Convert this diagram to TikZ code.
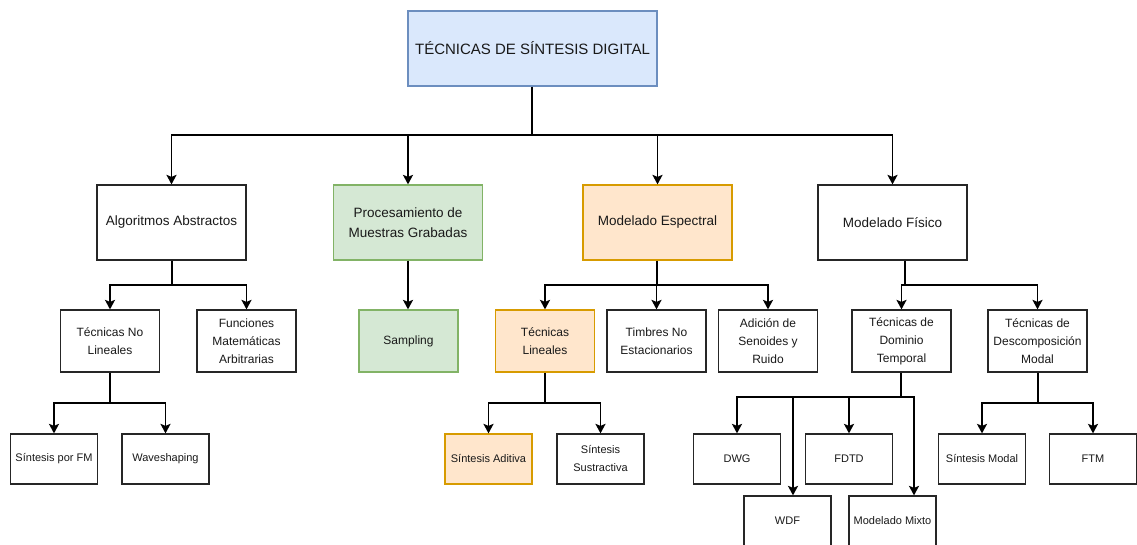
\documentclass[tikz,border=0pt]{standalone}
\usepackage{fontspec}
\setmainfont{Liberation Sans}
\usepackage{tikz}
\usetikzlibrary{calc}
\usetikzlibrary{arrows.meta}
\usetikzlibrary{positioning}
\definecolor{azulfill}{HTML}{DAE8FC}
\definecolor{azuldraw}{HTML}{6C8EBF}
\definecolor{verdefill}{HTML}{D5E8D4}
\definecolor{verdedraw}{HTML}{82B366}
\definecolor{naranjafill}{HTML}{FFE6CC}
\definecolor{naranjadraw}{HTML}{D79B00}
\tikzset{caja/.style={rectangle,draw=black!85,line width=1.2pt,inner sep=0pt,align=center,text=black!90}}
\tikzset{nivelA/.style={caja,minimum width=149pt,minimum height=75pt,font=\fontsize{13.5}{19.5}\selectfont}}
\tikzset{nivelB/.style={caja,minimum width=99pt,minimum height=62pt,font=\fontsize{12}{18}\selectfont}}
\tikzset{nivelC/.style={caja,minimum width=87pt,minimum height=50pt,font=\fontsize{11}{18}\selectfont}}
\tikzset{azul/.style={fill=azulfill,draw=azuldraw}}
\tikzset{verde/.style={fill=verdefill,draw=verdedraw}}
\tikzset{naranja/.style={fill=naranjafill,draw=naranjadraw}}

\begin{document}
\begin{tikzpicture}[x=1pt,y=-1pt]
\tikzstyle{flecha} = [line width=1.8pt,-{Stealth[length=9.5pt,width=10pt,inset=2pt]}]
\tikzstyle{tronco} = [line width=1.8pt]
\clip (0,0) rectangle (1137,545);
\fill[white] (0,0) rectangle (1137,545);

\node[caja,azul,minimum width=249pt,minimum height=75pt,font=\fontsize{15}{18}\selectfont](titulo) at (532.5, 48.5){TÉCNICAS DE SÍNTESIS DIGITAL};

\node[nivelA](algo) at (171.5, 222.5){Algoritmos Abstractos};
\node[nivelA,verde](proc) at (408, 222.5){Procesamiento de\\Muestras Grabadas};
\node[nivelA,naranja](espec) at (657.5, 222.5){Modelado Espectral};
\node[nivelA](fisico) at (892.5, 222.5){Modelado Físico};

\node[nivelB](nolin) at (110, 341){Técnicas No\\Lineales};
\node[nivelB](funcmat) at (246.5, 341){Funciones\\Matemáticas\\Arbitrarias};
\node[nivelB,verde](sampling) at (408.5, 341){Sampling};
\node[nivelB,naranja](lineales) at (545, 341){Técnicas\\Lineales};
\node[nivelB](timbres) at (656.5, 341){Timbres No\\Estacionarios};
\node[nivelB](adicion) at (768, 341){Adición de\\Senoides y\\Ruido};
\node[nivelB](dominio) at (901.5, 341){Técnicas de\\Dominio\\Temporal};
\node[nivelB](descomp) at (1037.5, 341){Técnicas de\\Descomposición\\Modal};

\node[nivelC](fm) at (54, 459){Síntesis por FM};
\node[nivelC](waveshaping) at (165.5, 459){Waveshaping};
\node[nivelC,naranja](aditiva) at (488.5, 459){Síntesis Aditiva};
\node[nivelC](sustractiva) at (600.5, 459){Síntesis\\Sustractiva};
\node[nivelC](dwg) at (737, 459){DWG};
\node[nivelC](fdtd) at (849, 459){FDTD};
\node[nivelC](wdf) at (787.5, 521){WDF};
\node[nivelC](mixto) at (892.5, 521){Modelado Mixto};
\node[nivelC](modal) at (982, 459){Síntesis Modal};
\node[nivelC](ftm) at (1093, 459){FTM};

\coordinate (tbus) at (532, 135);
\draw[tronco] (tbus |- titulo.south) -- (tbus);
\draw[flecha] (tbus) -| (algo.north);
\draw[flecha] (tbus) -| (proc.north);
\draw[flecha] (tbus) -| (espec.north);
\draw[flecha] (tbus) -| (fisico.north);

\coordinate (abus) at (172, 285);
\draw[tronco] (abus |- algo.south) -- (abus);
\draw[flecha] (abus) -| (nolin.north);
\draw[flecha] (abus) -| (funcmat.north);

\draw[flecha] (proc.south) -- (proc.south |- sampling.north);

\coordinate (ebus) at (657, 285);
\draw[tronco] (ebus |- espec.south) -- (ebus);
\draw[flecha] (ebus) -| (lineales.north);
\draw[flecha] (ebus) -| (timbres.north);
\draw[flecha] (ebus) -| (adicion.north);

\coordinate (fbus) at (905, 285);
\draw[tronco] (fbus |- fisico.south) -- (fbus);
\draw[flecha] (fbus) -| (dominio.north);
\draw[flecha] (fbus) -| (descomp.north);

\coordinate (nbus) at (110, 403);
\draw[tronco] (nbus |- nolin.south) -- (nbus);
\draw[flecha] (nbus) -| (fm.north);
\draw[flecha] (nbus) -| (waveshaping.north);

\coordinate (lbus) at (545, 403);
\draw[tronco] (lbus |- lineales.south) -- (lbus);
\draw[flecha] (lbus) -| (aditiva.north);
\draw[flecha] (lbus) -| (sustractiva.north);

\coordinate (dbus) at (901, 397);
\draw[tronco] (dbus |- dominio.south) -- (dbus);
\draw[flecha] (dbus) -| (dwg.north);
\draw[flecha] (dbus) -| ([xshift=5.5pt]wdf.north);
\draw[flecha] (dbus) -| (fdtd.north);
\draw[flecha] (dbus) -| ([xshift=21.5pt]mixto.north);

\coordinate (mbus) at (1038, 403);
\draw[tronco] (mbus |- descomp.south) -- (mbus);
\draw[flecha] (mbus) -| (modal.north);
\draw[flecha] (mbus) -| (ftm.north);

\end{tikzpicture}
\end{document}
